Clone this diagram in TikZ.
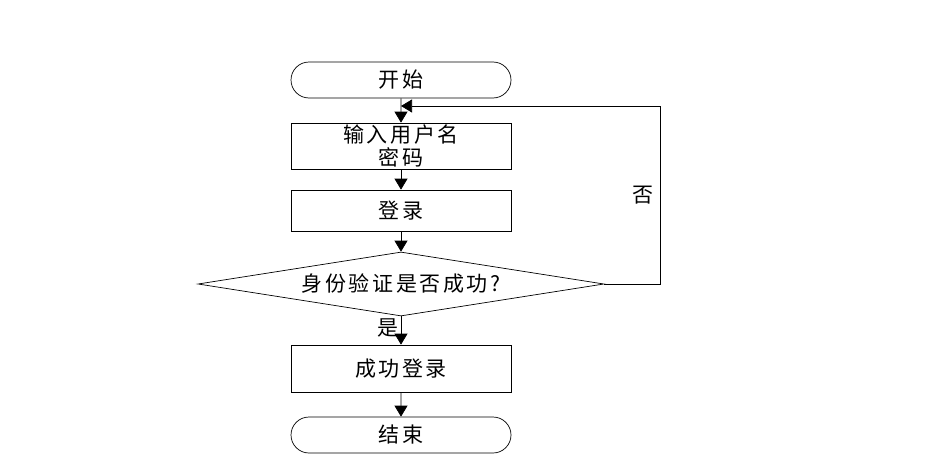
\documentclass[tikz,border=0pt]{standalone}
\usepackage{fontspec}
\newfontfamily\cjk[LetterSpace=12]{Noto Sans CJK SC}
\usetikzlibrary{shapes.geometric,shapes.misc,arrows.meta}

\tikzset{
    every node/.style={font=\cjk\fontsize{21}{23}\selectfont},
    terminal/.style={draw,rounded rectangle,minimum width=220pt,minimum height=36pt,inner sep=0pt},
    procbox/.style={draw,rectangle,minimum width=220pt,inner sep=0pt,align=center},
    decide/.style={draw,diamond,aspect=6.3,minimum width=406pt,minimum height=64pt,inner sep=0pt},
    arr/.style={-{Triangle[width=13pt,length=11pt]}},
}

\begin{document}
\begin{tikzpicture}[x=1pt,y=-1pt,line width=0.7pt]
    \useasboundingbox (0,0) rectangle (948,463);
    \node[terminal] (start) at (401,80) {开始};
    \node[procbox,minimum height=46pt] (input) at (401,146) {输入用户名\\密码};
    \node[procbox,minimum height=41pt] (login) at (401,210.5) {登录};
    \node[decide] (check) at (401,284) {身份验证是否成功?};
    \node[procbox,minimum height=47pt] (done) at (401,368.5) {成功登录};
    \node[terminal] (stop) at (401,435) {结束};
    \coordinate (back) at (401,106);

    \draw[arr] (start) -- (input);
    \draw[arr] (input) -- (login);
    \draw[arr] (login) -- (check);
    \draw[arr] (check) -- (done) node[pos=0.4,left,inner sep=2pt] (yes) {是};
    \draw[arr] (done) -- (stop);
    \draw[arr] (check.east) -- ++(56,0) |- (back)
        node[pos=0.25,left=3pt] (no) {否};
\end{tikzpicture}
\end{document}
